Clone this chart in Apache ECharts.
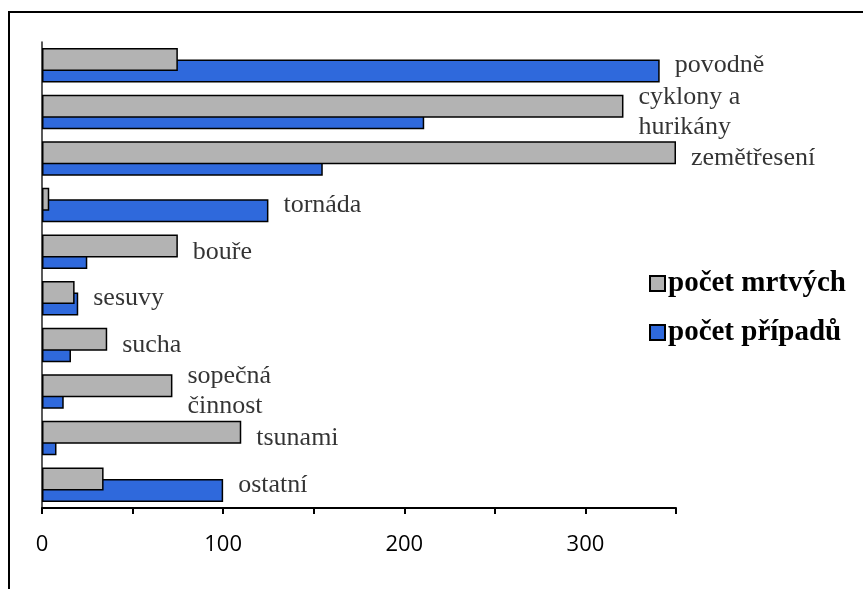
<!DOCTYPE html>
<html>
<head>
<meta charset="utf-8">
<script src="https://cdn.jsdelivr.net/npm/echarts@6/dist/echarts.min.js"></script>
<style>
  html, body { margin: 0; padding: 0; background: #fff; overflow: hidden; }
  #frame { position: absolute; left: 8px; top: 11px; width: 900px; height: 700px;
           border-left: 2px solid #000; border-top: 2px solid #000; }
  #chart { position: absolute; left: 0; top: 0; width: 863px; height: 589px; }
</style>
</head>
<body>
<div id="frame"></div>
<div id="chart"></div>
<script>
// kategorie shora dolů
const categories = ['povodně', 'cyklony a hurikány', 'zemětřesení', 'tornáda', 'bouře',
  'sesuvy', 'sucha', 'sopečná činnost', 'tsunami', 'ostatní']
// popisky u sloupců (zalomené jako v originálu)
const labels = ['povodně', 'cyklony a\nhurikány', 'zemětřesení', 'tornáda', 'bouře',
  'sesuvy', 'sucha', 'sopečná\nčinnost', 'tsunami', 'ostatní']
const mrtvych = [75, 321, 350, 4, 75, 18, 36, 72, 110, 34]
const pripadu = [341, 211, 155, 125, 25, 20, 16, 12, 8, 100]
const xTicks = [0, 100, 200, 300]

const chart = echarts.init(document.getElementById('chart'))

// bod za delším sloupcem nese popisek kategorie
const labelData = categories.map((c, i) => [Math.max(mrtvych[i], pripadu[i]), c])

const option = {
  animation: false,
  grid: { left: 42, top: 42, right: 187, bottom: 81, containLabel: false },
  legend: {
    orient: 'vertical',
    left: 644,
    top: 264,
    itemWidth: 15,
    itemHeight: 15,
    itemGap: 20,
    icon: 'rect',
    data: ['počet mrtvých', 'počet případů'],
    textStyle: { fontFamily: 'Liberation Serif', fontWeight: 'bold', fontSize: 29, color: '#000', padding: [0, 0, 0, -2] }
  },
  xAxis: {
    type: 'value',
    min: 0,
    max: 350,
    interval: 50,
    splitLine: { show: false },
    axisLine: { show: true, lineStyle: { color: '#000', width: 2 } },
    axisTick: { show: true, length: 6, lineStyle: { color: '#000', width: 2 } },
    axisLabel: {
      color: '#000',
      fontFamily: 'Open Sans',
      fontSize: 22,
      margin: 26,
      formatter: v => (xTicks.includes(v) ? String(v) : '')
    }
  },
  yAxis: {
    type: 'category',
    inverse: true,
    data: categories,
    axisLine: { show: true, lineStyle: { color: '#222', width: 1.5 } },
    axisTick: { show: false },
    axisLabel: { show: false }
  },
  series: [
    {
      name: 'počet mrtvých',
      type: 'bar',
      data: mrtvych,
      barWidth: 23,
      barGap: '-50%',
      z: 3,
      itemStyle: { color: '#b3b3b3', borderColor: '#000', borderWidth: 1.5 }
    },
    {
      name: 'počet případů',
      type: 'bar',
      data: pripadu,
      barWidth: 23,
      z: 2,
      itemStyle: { color: '#2f69dc', borderColor: '#000', borderWidth: 1.5 }
    },
    {
      name: 'popisky',
      type: 'scatter',
      data: labelData,
      symbolSize: 0,
      clip: false,
      z: 5,
      silent: true,
      label: {
        show: true,
        position: 'right',
        distance: 15,
        color: '#000',
        fontFamily: 'Liberation Serif',
        fontSize: 26,
        lineHeight: 30,
        formatter: p => labels[p.dataIndex]
      }
    }
  ]
}

chart.setOption(option)

window.addEventListener('resize', () => {
  chart.resize()
})
</script>
</body>
</html>
